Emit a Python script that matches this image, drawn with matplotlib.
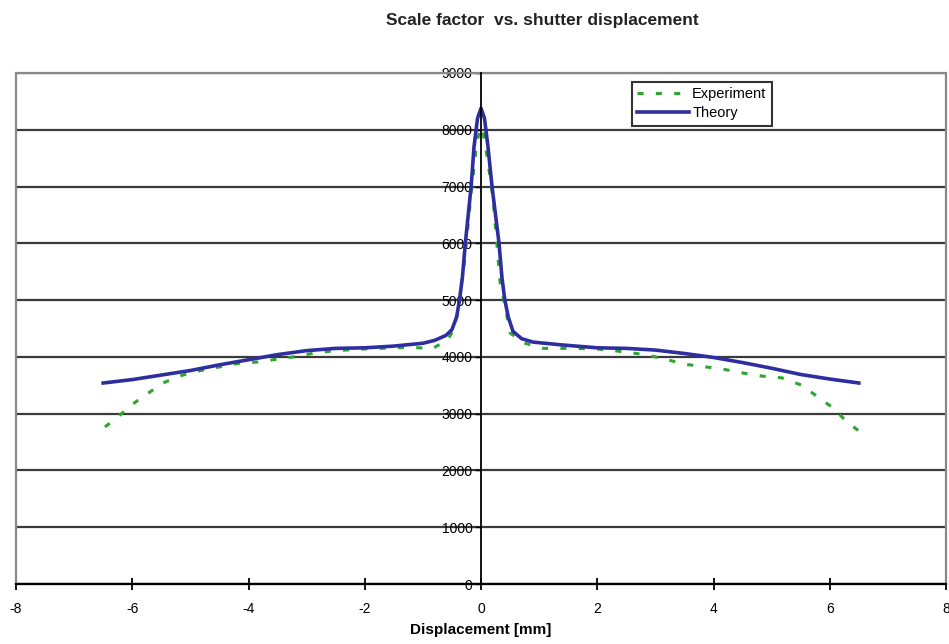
import matplotlib.pyplot as plt
from matplotlib.patches import Rectangle

plt.rcParams['font.family'] = ['Liberation Sans', 'DejaVu Sans']
plt.rcParams['axes.unicode_minus'] = False

# displacement [mm] and scale factor
theory_x = [-6.5, -6.0, -5.5, -5.0, -4.5, -4.0, -3.5, -3.0, -2.5, -2.0, -1.5,
            -1.0, -0.8, -0.6, -0.5, -0.42, -0.37, -0.32, -0.27, -0.22, -0.17,
            -0.12, -0.06, 0.0, 0.06, 0.12, 0.19, 0.25, 0.31, 0.36, 0.41,
            0.47, 0.55, 0.7, 0.9, 1.4, 2.0, 2.5, 3.0, 3.5, 4.0, 4.5, 5.0,
            5.5, 6.0, 6.5]
theory_y = [3540, 3600, 3680, 3760, 3860, 3950, 4040, 4110, 4150, 4160, 4190,
            4240, 4290, 4380, 4480, 4700, 5000, 5400, 6000, 6500, 7000,
            7700, 8200, 8380, 8200, 7700, 7000, 6500, 6000, 5400, 5000,
            4700, 4450, 4320, 4260, 4210, 4160, 4150, 4120, 4060, 3990, 3900,
            3800, 3690, 3610, 3540]

exp_x = [-6.47, -6.23, -5.99, -5.75, -5.47, -5.2, -4.87, -4.52, -4.15, -3.84,
         -3.51, -3.15, -2.86, -2.5, -2.0, -1.5, -1.17, -0.85, -0.57, -0.48,
         -0.4, -0.37, -0.28, -0.17, -0.07, 0.02, 0.12, 0.21, 0.33, 0.46, 0.5,
         0.76, 1.07, 1.5, 2.0, 2.5, 2.87, 3.17, 3.51, 3.89, 4.16, 4.51, 4.85,
         5.18, 5.52, 5.8, 6.06, 6.28, 6.52]
exp_y = [2765, 2960, 3170, 3345, 3540, 3660, 3750, 3820, 3890, 3910,
         3960, 4010, 4070, 4110, 4140, 4160, 4170, 4140, 4300, 4470,
         4770, 5050, 5700, 6880, 7820, 8050, 7430, 6760, 5300, 4650, 4420,
         4240, 4150, 4150, 4140, 4085, 4030, 3960, 3870, 3820, 3785, 3715, 3660,
         3630, 3500, 3290, 3100, 2870, 2680]

x_ticks = [-8, -6, -4, -2, 0, 2, 4, 6, 8]
y_ticks = [0, 1000, 2000, 3000, 4000, 5000, 6000, 7000, 8000, 9000]

fig = plt.figure(figsize=(9.49, 6.44), dpi=100)
ax = fig.add_axes([16 / 949, 60 / 644, 930 / 949, 511 / 644])

ax.set_xlim(-8, 8)
ax.set_ylim(0, 9000)

# horizontal gridlines
ax.set_yticks(y_ticks)
ax.yaxis.grid(True, color='#3a3a3a', linewidth=1.6)
ax.set_axisbelow(True)

ax.plot(exp_x, exp_y, color='#2ea52e', linewidth=2.2, linestyle=(0, (2, 4)),
        label='Experiment', zorder=3)
ax.plot(theory_x, theory_y, color='#2e2ea0', linewidth=2.6,
        label='Theory', zorder=4)

# axes cross at zero, gray frame around the plot area
for side in ['top', 'right']:
    ax.spines[side].set_visible(False)
ax.spines['left'].set_position('zero')
ax.spines['bottom'].set_position('zero')
ax.spines['left'].set_linewidth(1.3)
ax.spines['bottom'].set_linewidth(1.6)
ax.spines['left'].set_zorder(5)
ax.add_patch(Rectangle((0, 0), 1, 1, transform=ax.transAxes, fill=False,
                       edgecolor='#888888', linewidth=1.6, clip_on=False))

ax.set_xticks(x_ticks)
ax.tick_params(axis='x', direction='inout', length=8, width=1.3,
               labelsize=10, pad=9)
ax.tick_params(axis='y', direction='out', length=4, width=1.0,
               labelsize=10, pad=2)

ax.set_xlabel('Displacement [mm]', fontsize=11, fontweight='bold', labelpad=5)

fig.text(542 / 949, 1 - 20 / 644, 'Scale factor  vs. shutter displacement',
         ha='center', va='center', fontsize=12.5, fontweight='bold',
         color='#222222')

leg = ax.legend(loc='upper left', bbox_to_anchor=(0.662, 0.982),
                borderaxespad=0, fontsize=10.5, frameon=True, fancybox=False,
                handlelength=3.6, borderpad=0.35, labelspacing=0.35,
                handletextpad=0.2)
leg.get_frame().set_edgecolor('black')
leg.get_frame().set_linewidth(1.5)

fig.savefig('out.png', dpi=100)
